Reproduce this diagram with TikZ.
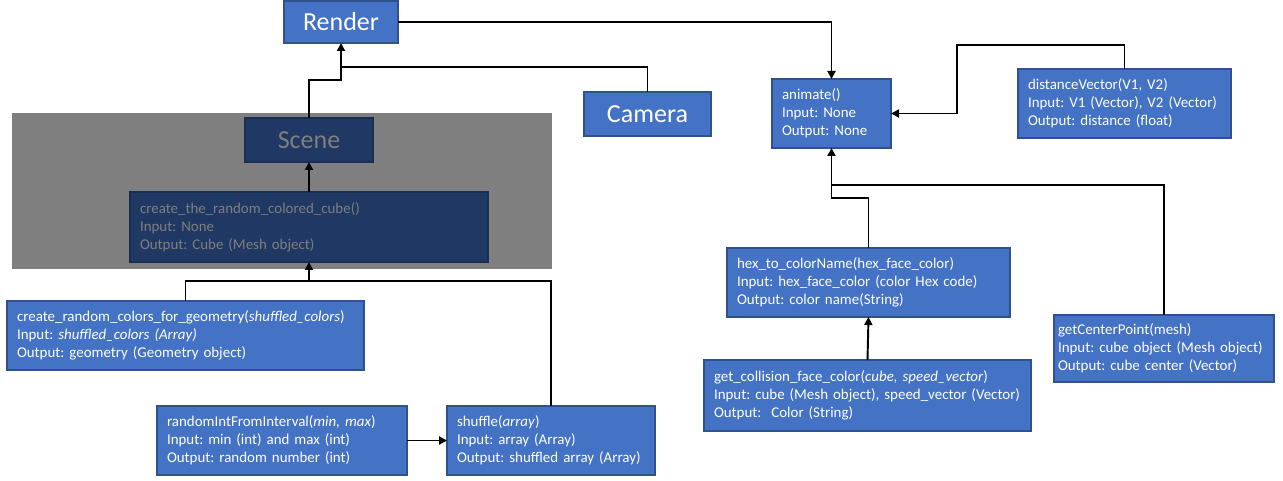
\documentclass[tikz,border=0pt]{standalone}
\usepackage{fontspec}
\setmainfont{Carlito}
\usetikzlibrary{arrows.meta}
\definecolor{boxblue}{HTML}{4472C4}
\definecolor{boxline}{HTML}{2F528F}
\definecolor{navy}{HTML}{203864}
\definecolor{navyline}{HTML}{1A2D52}
\definecolor{dimgray}{HTML}{7F7F7F}
\tikzset{
  titlebox/.style={draw=boxline, fill=boxblue, text=white, line width=0.6pt, inner sep=0pt, outer sep=0pt,
    font=\fontsize{14.8}{17}\selectfont},
  fnbox/.style={draw=boxline, fill=boxblue, text=white, line width=0.6pt, outer sep=0pt,
    inner xsep=0.2cm, inner ysep=0pt, align=left, text width=#1, minimum height=1.38cm,
    font=\fontsize{8.5}{10.2}\selectfont},
  dimbox/.style={fill=navy, draw=navyline, text=dimgray},
  link/.style={line width=1.1pt, color=black},
  arr/.style={link, -{Triangle[length=1.6mm, width=1.6mm]}}
}

\begin{document}
\frenchspacing
\hyphenpenalty=10000
\begin{tikzpicture}
			%%%%% START %%%%%
			\useasboundingbox (0, 0) rectangle (25.66, -9.62);
			
			\fill[dimgray] (0.24, -2.26) rectangle (11.04, -5.38);
			
			\node[titlebox, minimum width=2.28cm, minimum height=0.84cm] (render) at (6.82, -0.44) {Render};
			\node[titlebox, minimum width=2.54cm, minimum height=0.88cm] (camera) at (12.95, -2.28) {Camera};
			\node[titlebox, dimbox, minimum width=2.56cm, minimum height=0.88cm] (scene) at (6.18, -2.80) {Scene};
			
			\node[fnbox=6.76cm, dimbox, minimum height=1.40cm] (cube) at (6.18, -4.54)
				{create\_the\_random\_colored\_cube()\\Input: None\\Output: Cube (Mesh object)};
			\node[fnbox=6.74cm] (geometry) at (3.71, -6.71)
				{create\_random\_colors\_for\_geometry(\textit{shuffled\_colors})\\Input: \textit{shuffled\_colors (Array)}\\Output: geometry (Geometry object)};
			\node[fnbox=4.6cm] (randint) at (5.64, -8.81)
				{randomIntFromInterval(\textit{min, max})\\Input: min (int) and max (int)\\Output: random number (int)};
			\node[fnbox=3.76cm] (shuffle) at (11.02, -8.81)
				{shuffle(\textit{array})\\Input: array (Array)\\Output: shuffled array (Array)};
			
			\node[fnbox=1.98cm] (animate) at (16.63, -2.27)
				{animate()\\Input: None\\Output: None};
			\node[fnbox=3.86cm] (distance) at (22.49, -2.07)
				{distanceVector(V1, V2)\\Input: V1 (Vector), V2 (Vector)\\Output: distance (float)};
			\node[fnbox=5.26cm] (hexname) at (17.37, -5.65)
				{hex\_to\_colorName(hex\_face\_color)\\Input: hex\_face\_color (color Hex code)\\Output: color name(String)};
			\node[fnbox=6.14cm, minimum height=1.42cm] (collision) at (17.35, -7.91)
				{get\_collision\_face\_color(\textit{cube, speed\_vector})\\Input: cube (Mesh object), speed\_vector (Vector)\\Output: \ Color (String)};
			\node[fnbox=4.24cm, inner xsep=0.08cm, minimum height=1.34cm] (center) at (23.28, -6.97)
				{getCenterPoint(mesh)\\Input: cube object (Mesh object)\\Output: cube center (Vector)};
			
			\coordinate (jrender) at (6.82, -1.60);
			\coordinate (jcamera) at (6.82, -1.34);
			\coordinate (jcube) at (6.18, -5.62);
			\coordinate (jdist) at (19.14, -0.90);
			\coordinate (janim) at (16.63, -3.70);
			\coordinate (jhex) at (16.63, -3.96);
			
			\draw[arr] (scene.north) |- (jrender) -- (render.south);
			\draw[link] (camera.north) |- (jcamera);
			\draw[arr] (cube.north) -- (scene.south);
			\draw[arr] (geometry.north) |- (jcube) -- (cube.south);
			\draw[link] (shuffle.north) |- (jcube);
			\draw[arr] (randint.east) -- (shuffle.west);
			
			\draw[arr] (render.east) -| (animate.north);
			\draw[arr] (distance.north) |- (jdist) |- (animate.east);
			\draw[arr] (center.north) |- (janim) -- (animate.south);
			\draw[link] (hexname.north) |- (jhex) -- (janim);
			\draw[arr] (collision.north) -- (hexname.south);
			
			%%%%% END %%%%%
\end{tikzpicture}
\end{document}
